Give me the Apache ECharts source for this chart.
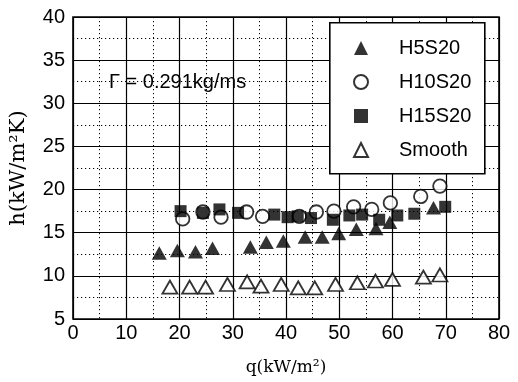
<!DOCTYPE html>
<html>
<head>
<meta charset="utf-8">
<script src="https://cdn.jsdelivr.net/npm/echarts@6/dist/echarts.min.js"></script>
<style>html,body{margin:0;padding:0;background:#fff;}#c{width:518px;height:382px;}</style>
</head>
<body>
<div id="c"></div>
<script>
// ---- data ----
const qH5S20 = [16.2, 19.6, 23.0, 26.2, 33.3, 36.3, 39.5, 43.6, 46.8, 49.9, 53.2, 56.9, 59.5, 67.7];
const hH5S20 = [12.65, 12.95, 12.8, 13.2, 13.35, 13.9, 14.05, 14.5, 14.5, 14.9, 15.4, 15.5, 16.2, 17.9];

const qH10S20 = [20.6, 24.4, 27.8, 32.6, 35.6, 42.5, 45.7, 49.0, 52.7, 56.1, 59.6, 65.3, 68.9];
const hH10S20 = [16.6, 17.4, 16.8, 17.4, 16.9, 16.9, 17.4, 17.5, 18.0, 17.7, 18.45, 19.2, 20.4];

const qH15S20 = [20.2, 24.4, 27.5, 31.0, 37.8, 40.3, 42.2, 44.7, 48.8, 51.9, 54.3, 57.5, 60.9, 64.1, 69.9];
const hH15S20 = [17.5, 17.3, 17.7, 17.3, 17.1, 16.8, 16.9, 16.7, 16.5, 17.0, 17.1, 16.5, 17.0, 17.2, 18.0];

const qSmooth = [18.2, 21.9, 24.9, 29.0, 32.7, 35.3, 39.1, 42.3, 45.4, 49.3, 53.4, 56.8, 60.0, 65.8, 68.9];
const hSmooth = [8.7, 8.7, 8.7, 9.0, 9.3, 8.8, 9.0, 8.6, 8.6, 9.0, 9.2, 9.4, 9.6, 9.85, 10.1];

const seriesNames = ['H5S20', 'H10S20', 'H15S20', 'Smooth'];
const xTicks = [0, 10, 20, 30, 40, 50, 60, 70, 80];
const yTicks = [5, 10, 15, 20, 25, 30, 35, 40];
const xTitle = 'q(kW/m²)';
const yTitle = 'h(kW/m²K)';
const note = 'Γ = 0.291kg/ms';

function pairs(xs, ys) { return xs.map((x, i) => [x, ys[i]]); }

const chart = echarts.init(document.getElementById('c'), null, {renderer: 'canvas'});
const sansFont = 'Liberation Sans, Arial, sans-serif';
const serifFont = 'DejaVu Serif, serif';

chart.setOption({
  animation: false,
  backgroundColor: '#fff',
  grid: {left: 72, right: 19, top: 17, bottom: 63, show: true, borderColor: '#000', borderWidth: 1.6, backgroundColor: 'transparent', z: 1},
  xAxis: {
    type: 'value', min: xTicks[0], max: xTicks[xTicks.length - 1], interval: 10,
    axisLine: {show: false}, axisTick: {show: false},
    axisLabel: {color: '#000', fontSize: 20, fontFamily: sansFont, margin: 4},
    splitLine: {show: true, lineStyle: {color: '#000', width: 1.2}},
    minorTick: {show: false, splitNumber: 2},
    minorSplitLine: {show: true, lineStyle: {color: '#000', width: 1, type: [1.2, 2.8]}},
    name: xTitle, nameLocation: 'middle', nameGap: 40,
    nameTextStyle: {color: '#000', fontSize: 17, fontFamily: serifFont}
  },
  yAxis: {
    type: 'value', min: yTicks[0], max: yTicks[yTicks.length - 1], interval: 5,
    axisLine: {show: false}, axisTick: {show: false},
    axisLabel: {color: '#000', fontSize: 20, fontFamily: sansFont, margin: 8},
    splitLine: {show: true, lineStyle: {color: '#000', width: 1.2}},
    minorTick: {show: false, splitNumber: 2},
    minorSplitLine: {show: true, lineStyle: {color: '#000', width: 1, type: [1.2, 2.8]}},
    name: yTitle, nameLocation: 'middle', nameGap: 44,
    nameTextStyle: {color: '#000', fontSize: 21, fontFamily: serifFont}
  },
  legend: {
    orient: 'vertical', left: 353, top: 38, padding: 0,
    itemWidth: 14, itemHeight: 14, itemGap: 14,
    selectedMode: false, z: 10,
    data: seriesNames,
    textStyle: {color: '#000', fontSize: 20, fontFamily: sansFont, lineHeight: 20, padding: [0, 0, 0, 26]}
  },
  graphic: [
    {type: 'rect', left: 329, top: 22, z: 8, shape: {width: 155, height: 151},
     style: {fill: '#fff', stroke: '#000', lineWidth: 1.6}},
    {type: 'text', left: 109, top: 72, z: 9,
     style: {text: note, fill: '#000', fontSize: 20, fontFamily: sansFont}}
  ],
  series: [
    {name: 'Smooth', type: 'scatter', data: pairs(qSmooth, hSmooth), symbol: 'triangle', symbolSize: [15, 13], z: 3,
     itemStyle: {color: '#fff', borderColor: '#000', borderWidth: 1.8}},
    {name: 'H10S20', type: 'scatter', data: pairs(qH10S20, hH10S20), symbol: 'circle', symbolSize: 13.5, z: 3,
     itemStyle: {color: '#fff', borderColor: '#000', borderWidth: 1.8}},
    {name: 'H5S20', type: 'scatter', data: pairs(qH5S20, hH5S20), symbol: 'triangle', symbolSize: [15, 13.5], z: 4,
     itemStyle: {color: '#000'}},
    {name: 'H15S20', type: 'scatter', data: pairs(qH15S20, hH15S20), symbol: 'rect', symbolSize: 12, z: 5,
     itemStyle: {color: '#000'}}
  ]
});
</script>
</body>
</html>
